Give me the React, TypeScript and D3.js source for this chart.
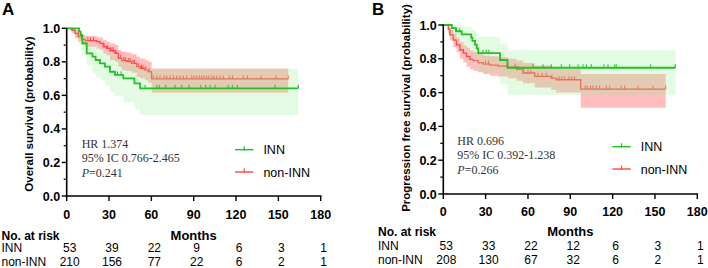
import React from "react";
import * as d3 from "d3";

// ---------- Data ----------
const monthTicks = [0, 30, 60, 90, 120, 150, 180];
const probTicks = [0, 0.2, 0.4, 0.6, 0.8, 1.0];
const probMinorTicks = [0.1, 0.3, 0.5, 0.7, 0.9];

// Panel A: overall survival
const osInnTimes = [0, 8.7, 9.9, 11.1, 14.2, 18.2, 20.5, 23.6, 27.1, 30.7, 34.2, 40.1, 48, 52];
const osInnSurv = [1, 0.98, 0.96, 0.911, 0.851, 0.831, 0.811, 0.791, 0.771, 0.741, 0.722, 0.702, 0.672, 0.642];
const osInnLower = [1, 0.9, 0.87, 0.84, 0.78, 0.73, 0.71, 0.69, 0.66, 0.62, 0.6, 0.56, 0.52, 0.483];
const osInnUpper = [1, 0.995, 0.98, 0.95, 0.91, 0.9, 0.885, 0.87, 0.855, 0.835, 0.82, 0.8, 0.78, 0.757];
const osInnCensor = [36, 38.5, 55.5, 63.8, 65.6, 70.2, 76.8, 81.5, 86.7, 95, 98.5, 101.6, 105.1, 114.5, 117.4, 120.9, 147.6];
const osInnEnd = 164.1;

const osNonTimes = [0, 3.5, 5.9, 8.2, 10.6, 13, 21.3, 23.6, 25.9, 28.3, 30.7, 34.2, 36.6, 39, 42.5, 46, 49.6, 52, 55.5, 57.8, 60.2];
const osNonSurv = [1, 0.99, 0.97, 0.95, 0.934, 0.926, 0.92, 0.91, 0.89, 0.881, 0.866, 0.851, 0.821, 0.807, 0.801, 0.791, 0.771, 0.761, 0.751, 0.741, 0.698];
const osNonLower = [1, 0.97, 0.94, 0.92, 0.9, 0.89, 0.88, 0.87, 0.85, 0.84, 0.81, 0.8, 0.77, 0.75, 0.745, 0.735, 0.71, 0.7, 0.69, 0.675, 0.616];
const osNonUpper = [1, 1, 0.99, 0.975, 0.96, 0.955, 0.95, 0.945, 0.93, 0.92, 0.91, 0.9, 0.87, 0.86, 0.855, 0.845, 0.83, 0.82, 0.81, 0.8, 0.761];
const osNonCensor = [15, 17, 19, 26.5, 29, 32, 33, 35, 38, 40.5, 41.5, 44, 45, 47, 48, 51, 53, 54, 56, 58.5, 61.4, 63.8, 66.1, 69, 70.9, 73.2, 75.6, 78, 80.3, 82.6, 85, 88.6, 90.2, 92.1, 94, 95.7, 97.3, 99.2, 100.8, 102.8, 104.4, 106.3, 108.6, 111, 115.2, 117.4, 125.2, 128, 137.7, 148.3];
const osNonEnd = 157;

// Panel B: progression free survival
const pfsInnTimes = [0, 6, 9, 13, 19.8, 20.6, 22.5, 23.7, 24.8, 40.2, 45.5];
const pfsInnSurv = [1, 0.982, 0.963, 0.944, 0.925, 0.906, 0.884, 0.862, 0.833, 0.793, 0.747];
const pfsInnLower = [1, 0.93, 0.9, 0.86, 0.82, 0.79, 0.77, 0.75, 0.72, 0.65, 0.588];
const pfsInnUpper = [1, 1, 1, 0.99, 0.98, 0.97, 0.96, 0.95, 0.93, 0.89, 0.85];
const pfsInnCensor = [9.2, 11.6, 28.1, 30.5, 32.2, 63.6, 70.7, 76.5, 83.6, 89.6, 95.5, 99, 101.4, 104.9, 113.9, 116.7, 121.5, 122.6, 147];
const pfsInnEnd = 164.4;

const pfsNonTimes = [0, 3.5, 4.7, 7.1, 9.4, 11.8, 14.2, 16.5, 18.9, 21.2, 24.8, 28.3, 33, 38.9, 46, 51.9, 56.5, 64.8, 76.5, 80.1, 97.4];
const pfsNonSurv = [1, 0.976, 0.941, 0.911, 0.882, 0.852, 0.833, 0.813, 0.797, 0.789, 0.777, 0.769, 0.763, 0.757, 0.75, 0.738, 0.716, 0.696, 0.686, 0.676, 0.621];
const pfsNonLower = [1, 0.95, 0.91, 0.87, 0.84, 0.8, 0.78, 0.755, 0.74, 0.73, 0.72, 0.71, 0.7, 0.695, 0.685, 0.67, 0.655, 0.63, 0.615, 0.6, 0.51];
const pfsNonUpper = [1, 1, 0.97, 0.95, 0.925, 0.9, 0.88, 0.865, 0.85, 0.84, 0.83, 0.82, 0.815, 0.81, 0.8, 0.79, 0.775, 0.76, 0.75, 0.74, 0.71];
const pfsNonCensor = [30, 32, 51, 53, 57, 60, 62, 67, 70, 73, 77, 82, 84, 86, 89, 91, 93, 100.6, 102, 104.4, 106.1, 108.4, 110.8, 115.5, 117.9, 126.1, 128.5, 137.9, 148.6];
const pfsNonEnd = 157.6;

const osRiskInn = [53, 39, 22, 9, 6, 3, 1];
const osRiskNon = [210, 156, 77, 22, 6, 2, 1];
const pfsRiskInn = [53, 33, 22, 12, 6, 3, 1];
const pfsRiskNon = [208, 130, 67, 32, 6, 2, 1];

const groupNames = ["INN", "non-INN"];

// ---------- Styles ----------
const GREEN = "#22c222";
const RED = "#ff4646";
const PINK_BAND = "#ffbdbd";
const GREEN_BAND = "rgb(150,235,150)";
const SANS = "'Liberation Sans', Arial, Helvetica, sans-serif";
const SERIF = "'Liberation Serif', 'Times New Roman', serif";

type Curve = {
  times: number[];
  surv: number[];
  lower: number[];
  upper: number[];
  censor: number[];
  end: number;
};

type PanelCfg = {
  letter: string;
  letterX: number;
  x0: number;
  x1: number;
  yBottom: number;
  yTop: number;
  title: string;
  titleX: number;
  titleY: number;
  inn: Curve;
  non: Curve;
  hr: string;
  ci: string;
  p: string;
  annX: number;
  annY: number;
  legX: number;
  legY: number;
  xLabelY: number;
  monthsY: number;
  rowY: number;
  tableX: number;
  riskInn: number[];
  riskNon: number[];
};

const panels: PanelCfg[] = [
  {
    letter: "A",
    letterX: 2,
    x0: 66.7,
    x1: 320.7,
    yBottom: 196,
    yTop: 28.3,
    title: "Overall survival (probability)",
    titleX: 28.5,
    titleY: 114,
    inn: { times: osInnTimes, surv: osInnSurv, lower: osInnLower, upper: osInnUpper, censor: osInnCensor, end: osInnEnd },
    non: { times: osNonTimes, surv: osNonSurv, lower: osNonLower, upper: osNonUpper, censor: osNonCensor, end: osNonEnd },
    hr: "HR 1.374",
    ci: "95% IC 0.766-2.465",
    p: "=0.241",
    annX: 81.7,
    annY: 148,
    legX: 235,
    legY: 149.7,
    xLabelY: 219,
    monthsY: 239.5,
    rowY: 252,
    tableX: 1.5,
    riskInn: osRiskInn,
    riskNon: osRiskNon,
  },
  {
    letter: "B",
    letterX: 372,
    x0: 443.3,
    x1: 697.3,
    yBottom: 194,
    yTop: 25,
    title: "Progression free survival (probability)",
    titleX: 405.7,
    titleY: 108,
    inn: { times: pfsInnTimes, surv: pfsInnSurv, lower: pfsInnLower, upper: pfsInnUpper, censor: pfsInnCensor, end: pfsInnEnd },
    non: { times: pfsNonTimes, surv: pfsNonSurv, lower: pfsNonLower, upper: pfsNonUpper, censor: pfsNonCensor, end: pfsNonEnd },
    hr: "HR 0.696",
    ci: "95% IC 0.392-1.238",
    p: "=0.266",
    annX: 457.3,
    annY: 145,
    legX: 612.3,
    legY: 146.7,
    xLabelY: 216.3,
    monthsY: 236,
    rowY: 250,
    tableX: 378,
    riskInn: pfsRiskInn,
    riskNon: pfsRiskNon,
  },
];

function survAt(c: Curve, t: number) {
  let v = c.surv[0];
  for (let i = 0; i < c.times.length; i++) {
    if (c.times[i] <= t) v = c.surv[i];
  }
  return v;
}

function Panel({ p }: { p: PanelCfg }) {
  const x = d3.scaleLinear().domain([0, 180]).range([p.x0, p.x1]);
  const y = d3.scaleLinear().domain([0, 1]).range([p.yBottom, p.yTop]);

  const linePath = (c: Curve) => {
    const pts: [number, number][] = c.times.map((t, i) => [t, c.surv[i]]);
    pts.push([c.end, c.surv[c.surv.length - 1]]);
    return d3
      .line<[number, number]>()
      .curve(d3.curveStepAfter)
      .x((d) => x(d[0]))
      .y((d) => y(d[1]))(pts) as string;
  };
  const bandPath = (c: Curve) => {
    const pts: [number, number, number][] = c.times.map((t, i) => [t, c.lower[i], c.upper[i]]);
    pts.push([c.end, c.lower[c.lower.length - 1], c.upper[c.upper.length - 1]]);
    return d3
      .area<[number, number, number]>()
      .curve(d3.curveStepAfter)
      .x((d) => x(d[0]))
      .y0((d) => y(d[1]))
      .y1((d) => y(d[2]))(pts) as string;
  };
  const ticks = (c: Curve, color: string, w: number) =>
    c.censor.map((t, i) => {
      const yy = y(survAt(c, t));
      return <line key={i} x1={x(t)} x2={x(t)} y1={yy - 3.5} y2={yy} stroke={color} strokeWidth={w} />;
    });

  const endTick = (c: Curve, color: string, w: number) => {
    const yy = y(c.surv[c.surv.length - 1]);
    return <line x1={x(c.end)} x2={x(c.end)} y1={yy - 3.5} y2={yy} stroke={color} strokeWidth={w} />;
  };

  const colX = (t: number) => x(t) + 3;

  return (
    <g>
      <text x={p.letterX} y={15} fontFamily={SANS} fontWeight="bold" fontSize={17}>
        {p.letter}
      </text>

      {/* non-INN band & line */}
      <path d={bandPath(p.non)} fill={PINK_BAND} stroke="none" />
      <path d={linePath(p.non)} fill="none" stroke={RED} strokeWidth={1.3} />
      {ticks(p.non, RED, 1)}
      {endTick(p.non, RED, 1)}

      {/* INN band & line */}
      <path d={bandPath(p.inn)} fill={GREEN_BAND} fillOpacity={0.27} stroke="none" />
      <path d={linePath(p.inn)} fill="none" stroke={GREEN} strokeWidth={1.8} />
      {ticks(p.inn, GREEN, 1)}
      {endTick(p.inn, GREEN, 1.2)}

      {/* axes */}
      <line x1={p.x0} x2={p.x0} y1={y(0)} y2={y(1) - 0.5} stroke="#000" strokeWidth={1.6} />
      <line x1={p.x0 - 0.8} x2={p.x1 + 0.8} y1={y(0)} y2={y(0)} stroke="#000" strokeWidth={1.6} />
      {probTicks.map((v) => (
        <g key={v}>
          <line x1={p.x0 - 5} x2={p.x0} y1={y(v)} y2={y(v)} stroke="#000" strokeWidth={1.4} />
          <text
            x={p.x0 - 6.5}
            y={y(v)}
            dy="0.36em"
            textAnchor="end"
            fontFamily={SANS}
            fontWeight="bold"
            fontSize={12.5}
          >
            {v.toFixed(1)}
          </text>
        </g>
      ))}
      {probMinorTicks.map((v) => (
        <line key={v} x1={p.x0 - 3} x2={p.x0} y1={y(v)} y2={y(v)} stroke="#000" strokeWidth={1.2} />
      ))}
      {monthTicks.map((t) => (
        <g key={t}>
          <line x1={x(t)} x2={x(t)} y1={y(0)} y2={y(0) + 5} stroke="#000" strokeWidth={1.4} />
          <text x={x(t)} y={p.xLabelY} textAnchor="middle" fontFamily={SANS} fontWeight="bold" fontSize={12.5}>
            {t}
          </text>
        </g>
      ))}
      <text
        transform={`translate(${p.titleX},${p.titleY}) rotate(-90)`}
        textAnchor="middle"
        dy="0.36em"
        fontFamily={SANS}
        fontWeight="bold"
        fontSize={11.5}
      >
        {p.title}
      </text>
      <text
        x={(p.x0 + p.x1) / 2}
        y={p.monthsY}
        textAnchor="middle"
        fontFamily={SANS}
        fontWeight="bold"
        fontSize={13}
      >
        Months
      </text>

      {/* annotation */}
      <g fontFamily={SERIF} fontSize={12} fill="#333">
        <text x={p.annX} y={p.annY}>
          {p.hr}
        </text>
        <text x={p.annX} y={p.annY + 14.3}>
          {p.ci}
        </text>
        <text x={p.annX} y={p.annY + 28.6}>
          <tspan fontStyle="italic">P</tspan>
          {p.p}
        </text>
      </g>

      {/* legend */}
      {[GREEN, RED].map((c, i) => {
        const ly = p.legY + i * 22.3;
        const mx = p.legX + 9.2;
        return (
          <g key={i}>
            <line x1={p.legX} x2={p.legX + 18.4} y1={ly} y2={ly} stroke={c} strokeWidth={1.4} />
            <line x1={mx} x2={mx} y1={ly - 3.5} y2={ly + 1} stroke={c} strokeWidth={1.2} />
            <text x={p.legX + 28.4} y={ly} dy="0.36em" fontFamily={SANS} fontSize={12.5}>
              {groupNames[i]}
            </text>
          </g>
        );
      })}

      {/* number at risk */}
      <text x={p.tableX} y={p.monthsY} fontFamily={SANS} fontWeight="bold" fontSize={12}>
        No. at risk
      </text>
      {[p.riskInn, p.riskNon].map((row, r) => (
        <g key={r} fontFamily={SANS} fontSize={12}>
          <text x={p.tableX} y={p.rowY + r * 13.6}>
            {groupNames[r]}
          </text>
          {row.map((v, i) => (
            <text key={i} x={colX(monthTicks[i])} y={p.rowY + r * 13.6} textAnchor="middle">
              {v}
            </text>
          ))}
        </g>
      ))}
    </g>
  );
}

export default function App() {
  return (
    <svg
      width={708}
      height={268}
      viewBox="0 0 708 268"
      style={{ position: "absolute", left: 0, top: 0, background: "#fff" }}
    >
      <rect width={708} height={268} fill="#fff" />
      {panels.map((p) => (
        <Panel key={p.letter} p={p} />
      ))}
    </svg>
  );
}
